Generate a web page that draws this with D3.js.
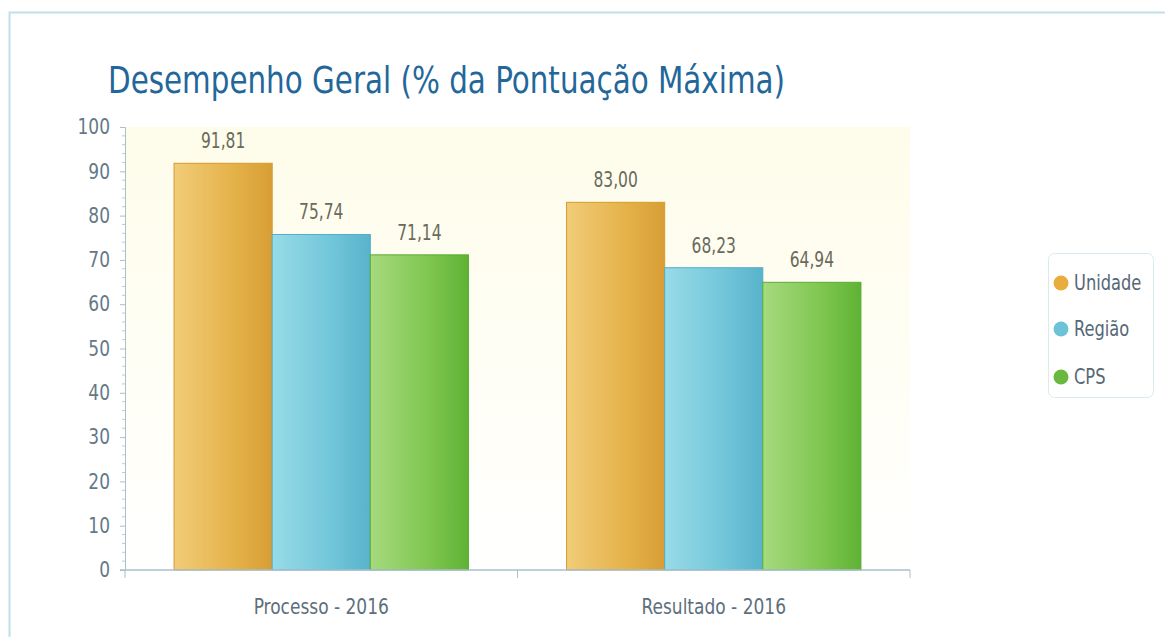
<!DOCTYPE html>
<html><head><meta charset="utf-8">
<script src="https://cdn.jsdelivr.net/npm/d3@7"></script>
<style>body{margin:0;background:#fff;}svg{display:block;}</style>
</head><body>
<script>
const categories = ["Processo - 2016", "Resultado - 2016"];
const seriesNames = ["Unidade", "Região", "CPS"];
const unidade = [91.81, 83.00];
const regiao = [75.74, 68.23];
const cps = [71.14, 64.94];
const yTicks = [0,10,20,30,40,50,60,70,80,90,100];
const titleText = "Desempenho Geral (% da Pontuação Máxima)";

const W = 1165, H = 637;
const FONT = "'DejaVu Sans Condensed', 'DejaVu Sans', sans-serif";
const svg = d3.select("body").append("svg").attr("width", W).attr("height", H);
const defs = svg.append("defs");
function squeeze(sel, f) {
  sel.each(function(){ const L = this.getComputedTextLength(); d3.select(this).attr("textLength", L*f).attr("lengthAdjust","spacingAndGlyphs"); });
}
const grads = [
  ["gU", "#f1cc78", "#e5b24a", "#d89e35"],
  ["gR", "#98dbe8", "#72c6da", "#57b3cb"],
  ["gC", "#a6da7e", "#7fc650", "#5fb234"]
];
grads.forEach(([id,a,b,c]) => {
  const g = defs.append("linearGradient").attr("id", id).attr("x1","0").attr("x2","1").attr("y1","0").attr("y2","0");
  g.append("stop").attr("offset","0").attr("stop-color",a);
  g.append("stop").attr("offset","0.6").attr("stop-color",b);
  g.append("stop").attr("offset","1").attr("stop-color",c);
});
const bg = defs.append("linearGradient").attr("id","bgG").attr("x1","0").attr("x2","0").attr("y1","0").attr("y2","1");
bg.append("stop").attr("offset","0").attr("stop-color","#fefcea");
bg.append("stop").attr("offset","0.6").attr("stop-color","#fffef6");
bg.append("stop").attr("offset","1").attr("stop-color","#ffffff");

// outer border
svg.append("rect").attr("x",9.5).attr("y",12.5).attr("width",W+20).attr("height",H+20)
  .attr("fill","none").attr("stroke","#bfe0e8").attr("stroke-width",2);

const m = {left:125, right:910, top:127, bottom:570};
const x0 = d3.scaleBand().domain(categories).range([m.left, m.right]).paddingInner(0.25).paddingOuter(0.125);
const x1 = d3.scaleBand().domain(seriesNames).range([0, x0.bandwidth()]);
const y = d3.scaleLinear().domain([0,100]).range([m.bottom, m.top]);

svg.append("rect").attr("x", m.left).attr("y", m.top).attr("width", m.right-m.left).attr("height", m.bottom-m.top)
  .attr("fill","url(#bgG)");

svg.append("text").attr("x",108).attr("y",93).text(titleText)
  .attr("font-family",FONT).attr("font-size",38)
  .attr("fill","#23679a").attr("textLength",677).attr("lengthAdjust","spacingAndGlyphs");

// y axis
const yAxis = d3.axisLeft(y).tickValues(yTicks).tickSize(5).tickPadding(10);
const gy = svg.append("g").attr("transform",`translate(${m.left},0)`).call(yAxis);
gy.select(".domain").attr("stroke","#a9bfcc");
gy.selectAll(".tick line").attr("stroke","#a9bfcc");
gy.selectAll("text").attr("font-family",FONT).attr("font-size",21).attr("fill","#647987").call(squeeze, 0.9);
// minor ticks
const minor = d3.range(0,100,2).filter(v=>v%10!==0);
svg.append("g").selectAll("line").data(minor).join("line")
  .attr("x1",m.left-3).attr("x2",m.left).attr("y1",d=>y(d)).attr("y2",d=>y(d)).attr("stroke","#bccbd6");

const data = categories.map((c,i)=>({cat:c, vals:[unidade[i], regiao[i], cps[i]]}));
const fills = ["url(#gU)","url(#gR)","url(#gC)"];
const strokes = ["#d49a2e","#52adc6","#5aab32"];
const fmt = v => d3.format(".2f")(v).replace(".", ",");
const groups = svg.append("g").selectAll("g").data(data).join("g").attr("transform", d=>`translate(${x0(d.cat)},0)`);
groups.selectAll("rect").data(d=>d.vals.map((v,i)=>({v,i}))).join("rect")
  .attr("x",d=>x1(seriesNames[d.i])).attr("width",x1.bandwidth())
  .attr("y",d=>y(d.v)).attr("height",d=>y(0)-y(d.v))
  .attr("fill",d=>fills[d.i]).attr("stroke",d=>strokes[d.i]).attr("stroke-width",1);
groups.selectAll("text").data(d=>d.vals.map((v,i)=>({v,i}))).join("text")
  .attr("x",d=>x1(seriesNames[d.i])+x1.bandwidth()/2).attr("y",d=>y(d.v)-15)
  .attr("text-anchor","middle").text(d=>fmt(d.v))
  .attr("font-family",FONT).attr("font-size",20.5).attr("fill","#6a6a5c").call(squeeze, 0.84);

// x axis
const gx = svg.append("g").attr("transform",`translate(0,${m.bottom})`);
gx.append("line").attr("x1",m.left-5).attr("x2",m.right).attr("y1",0).attr("y2",0).attr("stroke","#a9bfcc").attr("stroke-width",1.5);
const xt = [m.left, (x0(categories[0])+x0.bandwidth()+x0(categories[1]))/2, m.right];
gx.selectAll("line.t").data(xt).join("line").attr("class","t").attr("x1",d=>d).attr("x2",d=>d).attr("y1",0).attr("y2",8).attr("stroke","#a9bfcc");
gx.selectAll("text").data(categories).join("text")
  .attr("x",d=>x0(d)+x0.bandwidth()/2).attr("y",44).attr("text-anchor","middle").text(d=>d)
  .attr("font-family",FONT).attr("font-size",22).attr("fill","#5d6f7d").call(squeeze, 0.86);

// legend
const lg = svg.append("g");
lg.append("rect").attr("x",1048.5).attr("y",253.5).attr("width",105).attr("height",144).attr("rx",6)
  .attr("fill","#fff").attr("stroke","#dbe9f0");
const lcol = ["#e8ad3c","#6cc3d8","#6ab83e"];
const ly = [283, 329, 377];
seriesNames.forEach((s,i)=>{
  lg.append("circle").attr("cx",1061).attr("cy",ly[i]).attr("r",7.5).attr("fill",lcol[i]);
  lg.append("text").attr("x",1074).attr("y",ly[i]+7).text(s)
    .attr("font-family",FONT).attr("font-size",21).attr("fill","#566875").call(squeeze, 0.86);
});
</script>
</body></html>
